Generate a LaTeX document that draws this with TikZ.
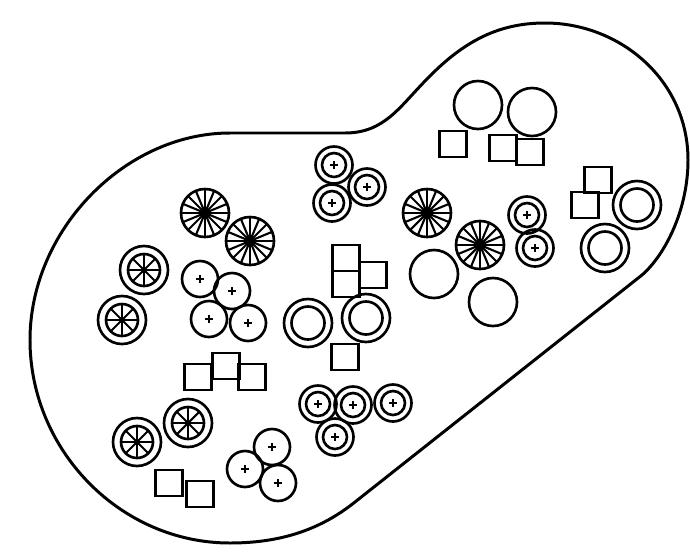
\documentclass[tikz,border=0pt]{standalone}
\usepackage{tikz}

\tikzset{
 symline/.style={line width=1.5pt},
 pics/spokewheel/.style={code={
  \draw[symline](0,0)circle(24);
  \foreach \a in {0,22.5,...,337.5}\draw[line width=1.2pt](0,0)--(\a:24);
  \fill(0,0)circle(5);}},
 pics/ringwheel/.style={code={
  \draw[symline](0,0)circle(24)(0,0)circle(16);
  \foreach \a in {0,45,...,315}\draw[line width=1.2pt](0,0)--(\a:16);
  \fill(0,0)circle(3);}},
 pics/pluscircle/.style={code={
  \draw[symline](0,0)circle(18);
  \draw[line width=1.5pt](-4,0)--(4,0)(0,-4)--(0,4);}},
 pics/ringplus/.style={code={
  \draw[symline](0,0)circle(18.5)(0,0)circle(12);
  \draw[line width=1.5pt](-4,0)--(4,0)(0,-4)--(0,4);}},
 pics/ring/.style={code={
  \draw[symline](0,0)circle(24)(0,0)circle(16.5);}},
 pics/plain/.style={code={
  \draw[symline](0,0)circle(24);}},
 pics/box/.style={code={
  \draw[symline](-13.5,-13)rectangle(13.5,13);}}
}

\begin{document}
\begin{tikzpicture}[x=.02cm,y=-.02cm]
 \useasboundingbox(0,0)rectangle(690,555);
 % outline of the whole site
 \draw[line width=1.7pt](230,133)--(345,133)
  ..controls(385,133)and(400,106)..(428,78)
  ..controls(465,40)and(500,23)..(545,23)
  ..controls(620,23)and(688,80)..(688,160)
  ..controls(688,210)and(665,255)..(642,275)
  --(355,502)
  ..controls(320,530)and(280,543)..(230,543)
  ..controls(120,543)and(30,450)..(30,340)
  ..controls(30,230)and(125,133)..cycle;
 % symbols, grouped by kind
 \foreach \p in {(205,213),(250,241),(427,213),(480,245)}
  \pic at \p {spokewheel};
 \foreach \p in {(144,270),(122,320),(137,442),(188,423)}
  \pic at \p {ringwheel};
 \foreach \p in {(200,279),(232,291),(209,319),(248,323),(272,447),(245,469),(278,483)}
  \pic at \p {pluscircle};
 \foreach \p in {(334,165),(367,187),(332,203),(527,215),(535,248),
                 (318,404),(353,405),(393,403),(335,437)}
  \pic at \p {ringplus};
 \foreach \p in {(308,323),(366,318),(637,205),(605,248)}
  \pic at \p {ring};
 \foreach \p in {(478,105),(532,112),(434,274),(493,302)}
  \pic at \p {plain};
 \foreach \p in {(453,144),(503,148),(530,152),(598,180),(585,205),
                 (346,258),(346,284),(373,275),(345,357),
                 (198,377),(226,366),(252,377),(169,483),(200,494)}
  \pic at \p {box};
\end{tikzpicture}
\end{document}
